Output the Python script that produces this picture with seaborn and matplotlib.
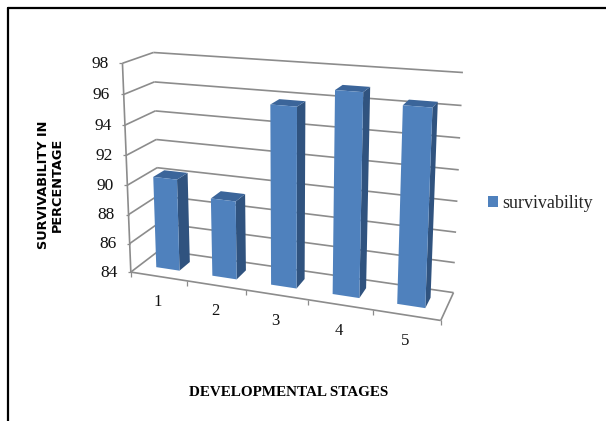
import numpy as np
import pandas as pd
import seaborn as sns
import matplotlib
matplotlib.use("Agg")
import matplotlib.pyplot as plt
from matplotlib.lines import Line2D
from matplotlib.patches import Patch, Polygon
from matplotlib.transforms import IdentityTransform, Transform

stages = ["1", "2", "3", "4", "5"]
survivability = [90.3, 89.3, 95.8, 97.0, 96.4]
value_ticks = [84, 86, 88, 90, 92, 94, 96, 98]

W, H = 606, 421
BLUE_FRONT = "#4F81BD"
BLUE_SIDE = "#30537F"
BLUE_TOP = "#3B659A"
GRID = "#8C8C8C"

# Camera of the pseudo-3D box: (category, depth, value) -> image pixels.
# Depth 0 is the front edge of the floor, depth 1 the back wall.
anchors = [
    ((-0.5, 0, 84), (132.0, 270.0)),
    ((4.5, 0, 84), (441.0, 322.0)),
    ((4.5, 1, 84), (453.5, 291.0)),
    ((-0.5, 1, 84), (158.5, 252.0)),
    ((-0.5, 0, 98), (121.0, 64.0)),
    ((-0.5, 1, 98), (155.0, 51.7)),
    ((4.5, 1, 98), (462.7, 72.7)),
]
rows = []
for (cx, cd, cv), (px, py) in anchors:
    p = [cx, cd, cv, 1.0]
    rows.append(p + [0, 0, 0, 0] + [-px * c for c in p])
    rows.append([0, 0, 0, 0] + p + [-py * c for c in p])
camera = np.linalg.svd(np.array(rows))[2][-1].reshape(3, 4)


def project(x, d, v):
    h = camera @ np.array([x, d, v, 1.0])
    return h[0] / h[2], h[1] / h[2]


class DepthPlane(Transform):
    """Sends (category, value) on a plane of fixed depth to display pixels."""

    input_dims = 2
    output_dims = 2

    def __init__(self, plane_depth):
        super().__init__()
        self.plane_depth = plane_depth

    def transform_non_affine(self, values):
        values = np.asarray(values, dtype=float)
        pts = np.column_stack(
            [values[:, 0], np.full(len(values), self.plane_depth), values[:, 1], np.ones(len(values))]
        )
        h = pts @ camera.T
        return np.column_stack([h[:, 0] / h[:, 2], H - h[:, 1] / h[:, 2]])


def pixel(px, py):
    return px, H - py


sns.set_theme(style="white", rc={"font.family": ["Liberation Serif", "DejaVu Serif"]})
fig = plt.figure(figsize=(W / 100, H / 100), dpi=100, facecolor="white")
ax = fig.add_axes([0, 0, 1, 1])

table = pd.DataFrame({"stage": stages, "survivability": survivability})
sns.barplot(data=table, x="stage", y="survivability", color=BLUE_FRONT, saturation=1,
            width=0.42, ax=ax)
ax.set_xlim(-0.5, 4.5)
ax.set_ylim(84, 98)
ax.set_axis_off()

FRONT, BACK = 0.32, 0.70
front_plane = DepthPlane(FRONT)
ident = IdentityTransform()

# Extrude each seaborn bar into the box: side and top faces behind the front one.
for bar in ax.patches:
    x0, x1 = bar.get_x(), bar.get_x() + bar.get_width()
    top = bar.get_y() + bar.get_height()
    bar.set_y(84)
    bar.set_height(top - 84)
    bar.set_transform(front_plane)
    bar.set_clip_on(False)
    bar.set_linewidth(0)
    bar.set_zorder(4)

    side = [project(x1, FRONT, 84), project(x1, BACK, 84), project(x1, BACK, top), project(x1, FRONT, top)]
    lid = [project(x0, FRONT, top), project(x1, FRONT, top), project(x1, BACK, top), project(x0, BACK, top)]
    for face, tone in ((side, BLUE_SIDE), (lid, BLUE_TOP)):
        ax.add_patch(Polygon([pixel(*p) for p in face], closed=True, fc=tone, ec="none",
                             transform=ident, clip_on=False, zorder=3))


def segment(p, q, width=1.2, color=GRID, z=1):
    a, b = pixel(*p), pixel(*q)
    ax.add_line(Line2D([a[0], b[0]], [a[1], b[1]], color=color, lw=width, transform=ident,
                       clip_on=False, zorder=z, solid_capstyle="butt"))


# Gridlines on the back and left walls, value axis with its ticks and labels.
for v in value_ticks:
    segment(project(-0.5, 1, v), project(4.5, 1, v))
    segment(project(-0.5, 0, v), project(-0.5, 1, v))
    fx, fy = project(-0.5, 0, v)
    segment((fx - 3, fy), (fx, fy), width=0.9)
    px, py = pixel(fx - 13.5, fy + 0.5)
    ax.text(px, py, str(v), transform=ident, ha="right", va="center", fontsize=12.5,
            color="#111111", clip_on=False)
segment(project(-0.5, 0, 84), project(-0.5, 0, 98))

# Floor outline, category ticks and labels.
segment(project(-0.5, 0, 84), project(4.5, 0, 84))
segment(project(4.5, 0, 84), project(4.5, 1, 84))
for edge in np.arange(-0.5, 5.0, 1.0):
    fx, fy = project(edge, 0, 84)
    segment((fx, fy), (fx, fy + 5), width=0.9)
for i, name in enumerate(stages):
    fx, fy = project(i, 0, 84)
    px, py = pixel(fx - 1, fy + 26)
    ax.text(px, py, name, transform=ident, ha="center", va="center", fontsize=12,
            color="#111111", clip_on=False)

# Axis titles.
fig.text(50.5 / W, 1 - 185 / H, "SURVIVABILITY IN\nPERCENTAGE", rotation=90, ha="center", va="center",
         ma="center", family=["DejaVu Sans"], fontweight="bold", fontsize=9.3,
         linespacing=1.05, color="black")
fig.text(289 / W, 1 - 392 / H, "DEVELOPMENTAL STAGES", ha="center", va="center",
         fontweight="bold", fontsize=10.9, color="black")

# Legend.
ax.legend(handles=[Patch(fc=BLUE_FRONT, ec="none", label="survivability")], loc="center left",
          bbox_to_anchor=(488 / W, 1 - 203 / H), bbox_transform=fig.transFigure, frameon=False,
          fontsize=13, handlelength=0.55, handleheight=0.55, handletextpad=0.22, borderpad=0,
          borderaxespad=0)

# Outer frame: left and top edges only.
frame = [((8, 421), (8, 8)), ((8, 8), (606, 8))]
for a, b in frame:
    pa, pb = pixel(*a), pixel(*b)
    ax.add_line(Line2D([pa[0], pb[0]], [pa[1], pb[1]], color="black", lw=1.6, transform=ident,
                       clip_on=False, zorder=6))

fig.savefig("out.png", dpi=100)
